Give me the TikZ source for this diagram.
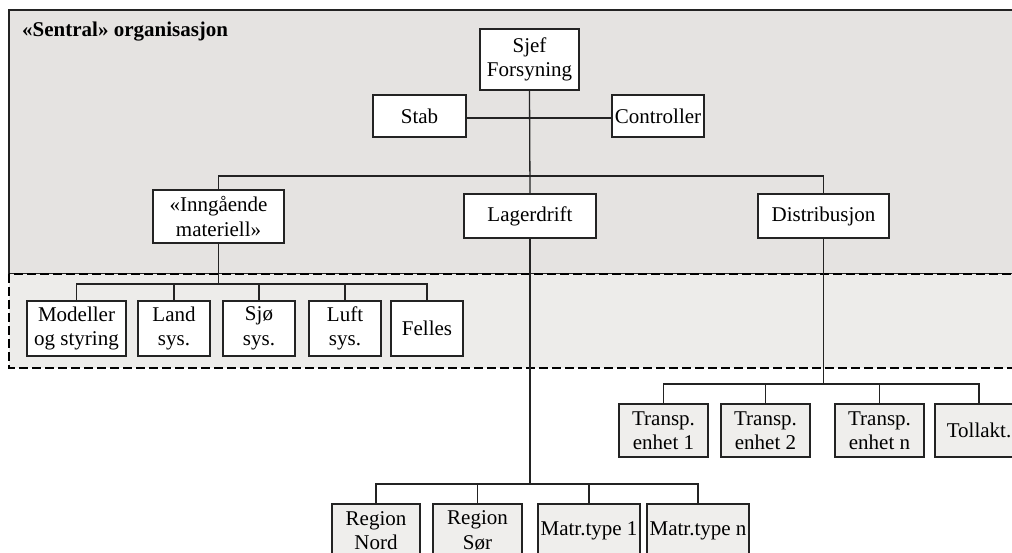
\documentclass[tikz,border=0pt]{standalone}
\usepackage{fontspec}
\setmainfont{Liberation Serif}
\definecolor{topgray}{RGB}{229,227,225}
\definecolor{lowgray}{RGB}{237,236,234}
\definecolor{unitgray}{RGB}{239,238,236}
\definecolor{ink}{RGB}{35,35,35}
\tikzset{
  unit/.style={draw=ink, line width=1.3pt, fill=white, align=center,
    inner sep=0pt, font=\fontsize{21}{24.5}\selectfont},
  gunit/.style={unit, fill=unitgray},
  link/.style={draw=ink, line width=1.3pt},
}
\begin{document}
\begin{tikzpicture}[x=1pt, y=-1pt]
\useasboundingbox (0,0) rectangle (1012,553);
\clip (0,0) rectangle (1012,553);

% central organisation and its dashed sub-area
\draw[draw=ink, line width=1.6pt, fill=topgray] (9,10) rectangle (1040,274);
\draw[draw=black, line width=1.8pt, dash pattern=on 9pt off 4pt, fill=lowgray] (9,274) rectangle (1040,368);
\node[anchor=base west, font=\fontsize{21}{24}\selectfont\bfseries, inner sep=0pt] (title) at (22,37) {«Sentral» organisasjon};

% top level
\node[unit, minimum width=99pt, minimum height=61pt] (sjef) at (529.5,59.5) {Sjef\\Forsyning};
\node[unit, minimum width=93pt, minimum height=42pt] (stab) at (419.5,116) {Stab};
\node[unit, minimum width=92pt, minimum height=42pt] (ctrl) at (658,116) {Controller};

% second level
\node[unit, minimum width=131pt, minimum height=53pt] (inng) at (218.5,216.5) {«Inngående\\materiell»};
\node[unit, minimum width=132pt, minimum height=44pt] (lager) at (530,216) {Lagerdrift};
\node[unit, minimum width=131pt, minimum height=44pt] (dist) at (823.5,216) {Distribusjon};

% material groups
\node[unit, minimum width=99pt, minimum height=55pt] (mod) at (76.5,328.5) {Modeller\\og styring};
\node[unit, minimum width=72pt, minimum height=55pt] (land) at (174,328.5) {Land\\sys.};
\node[unit, minimum width=72pt, minimum height=55pt] (sjo) at (259,328.5) {Sjø\\sys.};
\node[unit, minimum width=72pt, minimum height=55pt] (luft) at (345,328.5) {Luft\\sys.};
\node[unit, minimum width=72pt, minimum height=55pt] (felles) at (427,328.5) {Felles};

% transport units
\node[gunit, minimum width=89pt, minimum height=53pt] (t1) at (663.5,430.5) {Transp.\\enhet 1};
\node[gunit, minimum width=89pt, minimum height=53pt] (t2) at (765.5,430.5) {Transp.\\enhet 2};
\node[gunit, minimum width=89pt, minimum height=53pt] (tn) at (879.5,430.5) {Transp.\\enhet n};
\node[gunit, minimum width=88pt, minimum height=53pt] (toll) at (979,430.5) {Tollakt.};

% storage units
\node[gunit, minimum width=88pt, minimum height=53pt] (rn) at (376,530.5) {Region\\Nord};
\node[gunit, minimum width=89pt, minimum height=53pt] (rs) at (477.5,530.5) {Region\\Sør};
\node[gunit, minimum width=102pt, minimum height=53pt] (m1) at (589,530.5) {Matr.type 1};
\node[gunit, minimum width=102pt, minimum height=53pt] (mn) at (698,530.5) {Matr.type n};

% bus heights
\coordinate (b1) at (0,118);
\coordinate (b2) at (0,176);
\coordinate (b3) at (0,284);
\coordinate (b4) at (0,384);
\coordinate (b5) at (0,484);

% connectors
\draw[link] (sjef.south) -- (lager.north);
\draw[link] (stab.east |- b1) -- (ctrl.west |- b1);
\draw[link] (inng.north) |- (dist.north |- b2) -- (dist.north);

\draw[link] (inng.south) -- (inng.south |- b3);
\draw[link] (mod.north) |- (felles.north |- b3) -- (felles.north);
\draw[link] (land.north) -- (land.north |- b3);
\draw[link] (sjo.north) -- (sjo.north |- b3);
\draw[link] (luft.north) -- (luft.north |- b3);

\draw[link] (dist.south) -- (dist.south |- b4);
\draw[link] (t1.north) |- (toll.north |- b4) -- (toll.north);
\draw[link] (t2.north) -- (t2.north |- b4);
\draw[link] (tn.north) -- (tn.north |- b4);

\draw[link] (lager.south) -- (lager.south |- b5);
\draw[link] (rn.north) |- (mn.north |- b5) -- (mn.north);
\draw[link] (rs.north) -- (rs.north |- b5);
\draw[link] (m1.north) -- (m1.north |- b5);
\end{tikzpicture}
\end{document}
